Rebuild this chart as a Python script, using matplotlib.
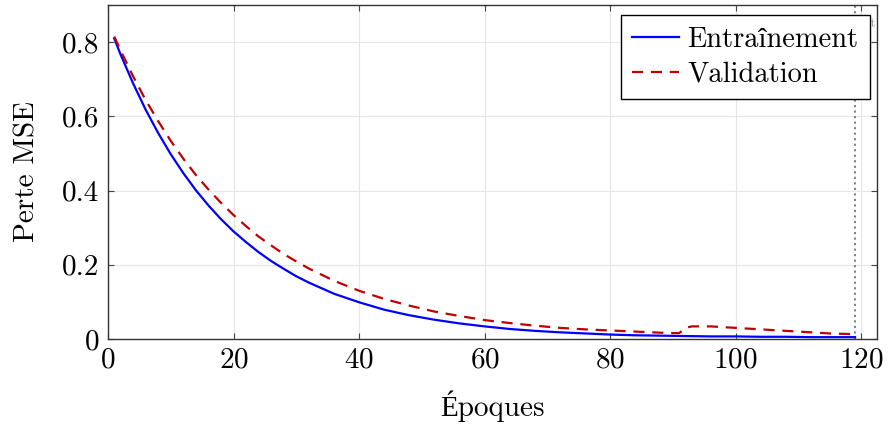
import matplotlib
matplotlib.use('Agg')
import matplotlib.pyplot as plt

# training curve (MSE per epoch)
epochs_train = [1, 2, 4, 6, 8, 10, 12, 14, 16, 18, 20, 22, 24, 26, 28, 30, 32,
                36, 40, 44, 48, 52, 56, 60, 64, 68, 72, 76, 80, 84, 88, 92,
                96, 100, 104, 108, 112, 116, 119]
loss_train = [0.810, 0.767, 0.689, 0.618, 0.555, 0.498, 0.447, 0.401, 0.360,
              0.323, 0.290, 0.261, 0.234, 0.210, 0.189, 0.169, 0.152, 0.122,
              0.099, 0.079, 0.064, 0.052, 0.042, 0.034, 0.027, 0.022, 0.018,
              0.015, 0.012, 0.010, 0.009, 0.008, 0.007, 0.007, 0.006, 0.006,
              0.005, 0.005, 0.005]

epochs_val = [1, 2, 4, 6, 8, 10, 12, 14, 16, 18, 20, 22, 24, 26, 28, 30, 32,
              36, 40, 44, 48, 52, 56, 60, 64, 68, 72, 76, 80, 84, 88, 90, 91,
              92, 93, 96, 100, 105, 110, 115, 119]
loss_val = [0.815, 0.778, 0.708, 0.644, 0.587, 0.534, 0.486, 0.442, 0.403,
            0.367, 0.334, 0.304, 0.276, 0.252, 0.229, 0.209, 0.190, 0.157,
            0.130, 0.108, 0.090, 0.074, 0.062, 0.051, 0.043, 0.036, 0.030,
            0.026, 0.023, 0.020, 0.017, 0.016, 0.016, 0.030, 0.034, 0.034,
            0.030, 0.025, 0.020, 0.015, 0.013]

stop_epoch = 119

plt.rcParams['font.family'] = ['cmr10', 'Liberation Serif']
plt.rcParams['mathtext.fontset'] = 'cm'
plt.rcParams['axes.formatter.use_mathtext'] = True

fig = plt.figure(figsize=(8.9, 4.3), dpi=100)
ax = fig.add_axes([0.1213, 0.2116, 0.8641, 0.7768])

ax.plot(epochs_train, loss_train, color='#0000ff', lw=1.6, label='Entraînement')
ax.plot(epochs_val, loss_val, color='#bf0000', lw=1.6, ls=(0, (5, 3.5)),
        label='Validation')
ax.axvline(stop_epoch, color='#808080', ls=':', lw=1.5, zorder=1)
ax.text(122.45, 0.85, 'Arrêt', color='#999999', fontsize=10, ha='right',
        va='center', zorder=1, clip_on=True)

ax.set_xlim(0, 122.5)
ax.set_ylim(0, 0.9)
ax.set_xticks(range(0, 121, 20))
ax.set_yticks([0, 0.2, 0.4, 0.6, 0.8])
ax.set_yticklabels(['0', '0.2', '0.4', '0.6', '0.8'])
ax.grid(True, color='#e6e6e6', lw=0.8)
ax.set_axisbelow(True)
ax.tick_params(direction='in', top=True, right=True, labelsize=21,
               length=4, width=0.8, color='#444444', pad=6)
for s in ax.spines.values():
    s.set_color('#333333')
    s.set_linewidth(1.0)

ax.set_xlabel('Époques', fontsize=21, labelpad=12)
ax.set_ylabel('Perte MSE', fontsize=21, labelpad=16)

leg = ax.legend(loc='upper right', bbox_to_anchor=(0.991, 0.970),
                borderaxespad=0, fontsize=20.5, fancybox=False, framealpha=1,
                edgecolor='black', handlelength=1.65, borderpad=0.4,
                labelspacing=0.3, handletextpad=0.3)
leg.get_frame().set_linewidth(1.0)
leg.set_zorder(5)

fig.savefig('out.png', dpi=100)
